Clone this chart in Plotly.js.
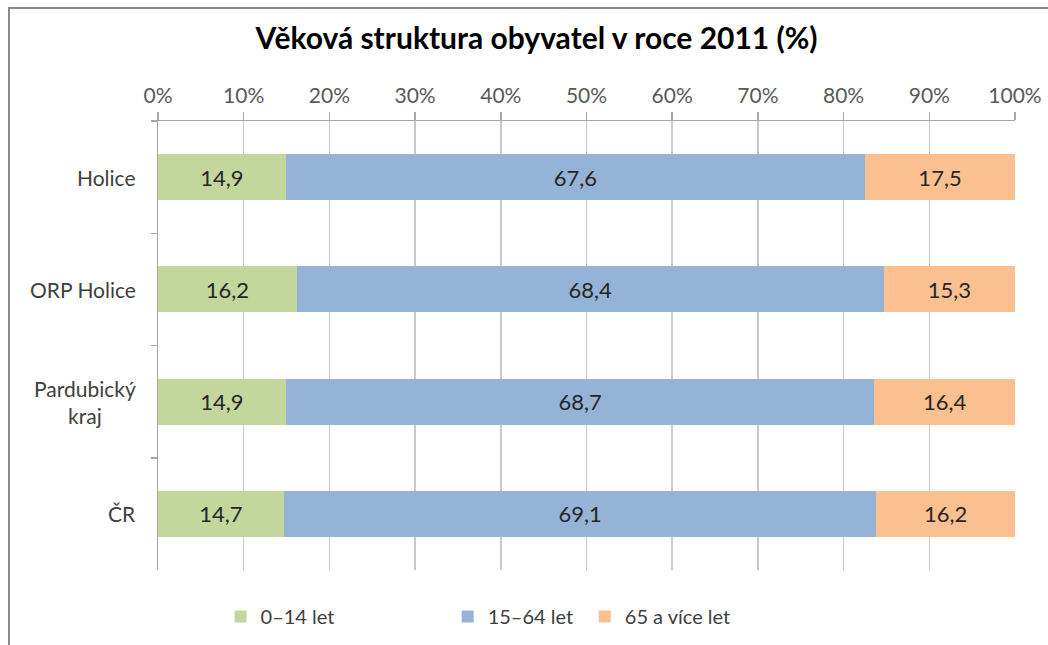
<!DOCTYPE html>
<html>
<head>
<meta charset="utf-8">
<script src="https://cdn.plot.ly/plotly-3.0.1.min.js"></script>
<style>
html,body{margin:0;padding:0;background:#fff;overflow:hidden;}
#chart{width:1048px;height:645px;position:absolute;left:0;top:0;}
#frame{position:absolute;left:8px;top:7px;width:1100px;height:700px;border:2px solid #8a8a8a;pointer-events:none;}
</style>
</head>
<body>
<div id="chart"></div>
<div id="frame"></div>
<script>
const categories = ["Holice", "ORP Holice", "Pardubický<br>kraj", "ČR"];
const seriesNames = ["0–14 let", "15–64 let", "65 a více let"];
const age0_14 = [14.9, 16.2, 14.9, 14.7];
const age15_64 = [67.6, 68.4, 68.7, 69.1];
const age65plus = [17.5, 15.3, 16.4, 16.2];
const colors = ["#C3D69B", "#95B3D7", "#FAC090"];
const tickVals = [0, 10, 20, 30, 40, 50, 60, 70, 80, 90, 100];

const fmt = v => v.toFixed(1).replace('.', ',');
const font = "Lato, 'Open Sans', sans-serif";
const legendIds = ['legend', 'legend2', 'legend3'];
const legendX = [0.073, 0.338, 0.498];

const data = [age0_14, age15_64, age65plus].map((vals, i) => ({
  type: 'bar',
  orientation: 'h',
  name: seriesNames[i],
  legend: legendIds[i],
  y: categories,
  x: vals,
  text: vals.map(fmt),
  textposition: 'inside',
  insidetextanchor: 'middle',
  textfont: {family: font, size: 22, color: '#262626'},
  marker: {color: colors[i]},
  hoverinfo: 'skip'
}));

const annotations = categories.map(c => ({
  xref: 'paper', yref: 'y', x: 0, y: c, xanchor: 'right', yanchor: 'middle',
  xshift: -20, align: 'center', showarrow: false, text: c,
  font: {family: font, size: 21, color: '#404040'}
}));

const legendBase = i => ({
  orientation: 'h', x: legendX[i], xanchor: 'left', y: -0.06, yanchor: 'top',
  font: {family: font, size: 20, color: '#404040'}, bgcolor: 'rgba(0,0,0,0)'
});

const layout = {
  width: 1048, height: 645,
  paper_bgcolor: '#fff', plot_bgcolor: '#fff',
  margin: {l: 158, r: 33, t: 121, b: 75, autoexpand: false},
  barmode: 'stack',
  barnorm: 'percent',
  bargap: 0.59,
  title: {text: '<b>Věková struktura obyvatel v roce 2011 (%)</b>', font: {family: font, size: 30, color: '#000'}, x: 0.512, xanchor: 'center', y: 0.94, yanchor: 'middle'},
  xaxis: {
    side: 'top', range: [0, 100], tickvals: tickVals, ticktext: tickVals.map(v => v + '%'),
    showgrid: true, gridcolor: '#C8C8C8', gridwidth: 1.5,
    showline: true, linecolor: '#A6A6A6', linewidth: 1.5,
    ticks: 'outside', ticklen: 8, tickcolor: '#A6A6A6', tickwidth: 1.5,
    tickfont: {family: font, size: 21, color: '#595959'},
    zeroline: false, fixedrange: true
  },
  yaxis: {
    autorange: 'reversed', type: 'category',
    showline: true, linecolor: '#A6A6A6', linewidth: 1.5,
    ticks: 'outside', tickson: 'boundaries', ticklen: 6, tickcolor: '#A6A6A6', tickwidth: 1.5,
    showticklabels: false,
    showgrid: false, zeroline: false, fixedrange: true
  },
  annotations: annotations,
  legend: legendBase(0),
  legend2: legendBase(1),
  legend3: legendBase(2),
  showlegend: true
};

Plotly.newPlot('chart', data, layout, {displayModeBar: false, staticPlot: true});
</script>
</body>
</html>
